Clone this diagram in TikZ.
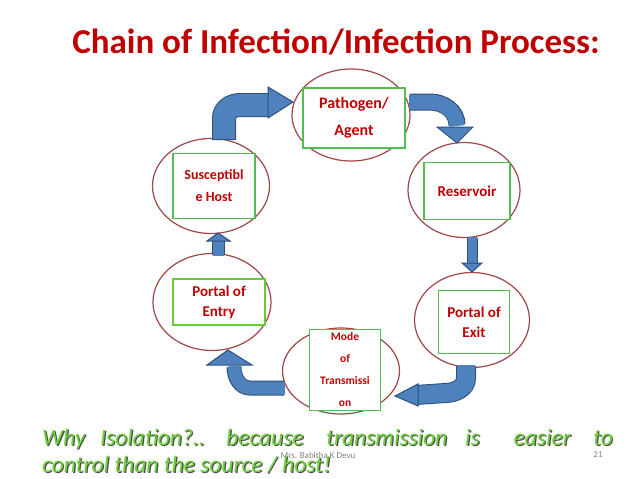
\documentclass[tikz,border=0pt]{standalone}
\usepackage{fontspec}
\setmainfont{Carlito}
\usetikzlibrary{shapes.geometric,calc}
\definecolor{tred}{RGB}{192,0,0}
\definecolor{ered}{RGB}{160,70,70}
\definecolor{bgreen}{RGB}{80,190,80}
\definecolor{ablue}{RGB}{79,129,189}
\definecolor{aedge}{RGB}{45,80,125}
\definecolor{tgreen}{RGB}{110,210,60}
\begin{document}
\begin{tikzpicture}[x=1pt,y=-1pt,
  ell/.style={ellipse,draw=ered,line width=1.2pt,inner sep=0,minimum width=#1},
  box/.style={draw=bgreen,line width=1.2pt,fill=white,text=tred,font=\bfseries\fontsize{15}{26}\selectfont,align=center,inner sep=0},
  shaft/.style={line width=#1+2pt,draw=aedge},
  shaftin/.style={line width=#1,draw=ablue},
  head/.style={fill=ablue,draw=aedge,line width=1pt,line join=miter},
  bt/.style={font=\itshape\fontsize{23.5}{28}\selectfont,inner sep=0}]
\useasboundingbox (0,0) rectangle (638,479);
\node[font=\bfseries\fontsize{35}{40}\selectfont,text=tred] (title) at (336,42) {Chain of Infection/Infection Process:};
% ellipses
\node[ell=118pt,minimum height=92pt] (e1) at (351,115) {};
\node[ell=117pt,minimum height=95pt] (e2) at (211,186) {};
\node[ell=112pt,minimum height=95pt] (e3) at (464,190) {};
\node[ell=118pt,minimum height=97pt] (e4) at (212,302) {};
\node[ell=115pt,minimum height=95pt] (e5) at (472,320) {};
\node[ell=117pt,minimum height=86pt] (e6) at (341,371) {};
% arrows
\draw[shaft=22pt] (224,140) -- (224,118) to[out=90,in=180] (240,105) -- (270,105);
\draw[shaftin=22pt] (224,139) -- (224,118) to[out=90,in=180] (240,105) -- (271,105);
\draw[head] (268,87) -- (293,102) -- (268,118) -- cycle;
\draw[shaft=15pt] (410,102) -- (430,102) to[out=0,in=90] (457,125);
\draw[shaftin=15pt] (409,102) -- (430,102) to[out=0,in=90] (457,126);
\draw[head] (437,127) -- (457,143) -- (473,127) -- cycle;
\draw[shaft=9pt] (472,238) -- (472,264);
\draw[shaftin=9pt] (472,237) -- (472,265);
\draw[head] (462,263) -- (472,272) -- (482,263) -- cycle;
\draw[shaft=18pt] (466,366) -- (466,378) to[out=-90,in=0] (445,393) -- (416,395);
\draw[shaftin=18pt] (466,365) -- (466,378) to[out=-90,in=0] (445,393) -- (415,395);
\draw[head] (418,384) -- (395,396) -- (418,406) -- cycle;
\draw[shaft=13pt] (284,388) -- (250,388) to[out=180,in=-90] (234,367);
\draw[shaftin=13pt] (285,388) -- (250,388) to[out=180,in=-90] (234,366);
\draw[head] (207,365) -- (228,350) -- (252,365) -- cycle;
\draw[shaft=11pt] (218,255) -- (218,241);
\draw[shaftin=11pt] (218,256) -- (218,240);
\draw[head] (207,241) -- (218,233) -- (230,241) -- cycle;
% boxes
\node[box,minimum width=102pt,minimum height=60pt,font=\bfseries\fontsize{16}{27}\selectfont] (b1) at (354,118) {Pathogen/\\Agent};
\node[box,minimum width=82pt,minimum height=65pt,font=\bfseries\fontsize{14}{22}\selectfont] (b2) at (214,186) {Susceptibl\\e Host};
\node[box,minimum width=86pt,minimum height=57pt] (b3) at (467,191) {Reservoir};
\node[box,draw=green!50!olive!80,minimum width=92pt,minimum height=46pt,font=\bfseries\fontsize{15}{20}\selectfont] (b4) at (219,302) {Portal of\\Entry};
\node[box,minimum width=71pt,minimum height=63pt,font=\bfseries\fontsize{15}{20}\selectfont] (b5) at (474,322) {Portal of\\Exit};
\node[box,minimum width=71pt,minimum height=81pt,font=\bfseries\fontsize{11.5}{22}\selectfont] (b6) at (345,370) {Mode\\of\\Transmissi\\on};
% bottom text
\node[font=\fontsize{9}{10}\selectfont,text=gray] (foot) at (318,455) {Mrs. Babitha K Devu};
\node[font=\fontsize{9}{10}\selectfont,text=gray] (pg) at (598,455) {21};
\foreach \dx/\dy/\c in {1.2/1.2/black!70, 0/0/tgreen}{
\node[bt,text=\c,anchor=base west] at (42+\dx,445+\dy) {Why};
\node[bt,text=\c,anchor=base west] at (100+\dx,445+\dy) {Isolation?..};
\node[bt,text=\c,anchor=base west] at (226+\dx,445+\dy) {because};
\node[bt,text=\c,anchor=base west] at (326+\dx,445+\dy) {transmission};
\node[bt,text=\c,anchor=base west] at (465+\dx,445+\dy) {is};
\node[bt,text=\c,anchor=base east] at (571+\dx,445+\dy) {easier};
\node[bt,text=\c,anchor=base east] at (613+\dx,445+\dy) {to};
\node[bt,text=\c,anchor=base west] at (42+\dx,472+\dy) {control than the source / host!};
}
\end{tikzpicture}
\end{document}
